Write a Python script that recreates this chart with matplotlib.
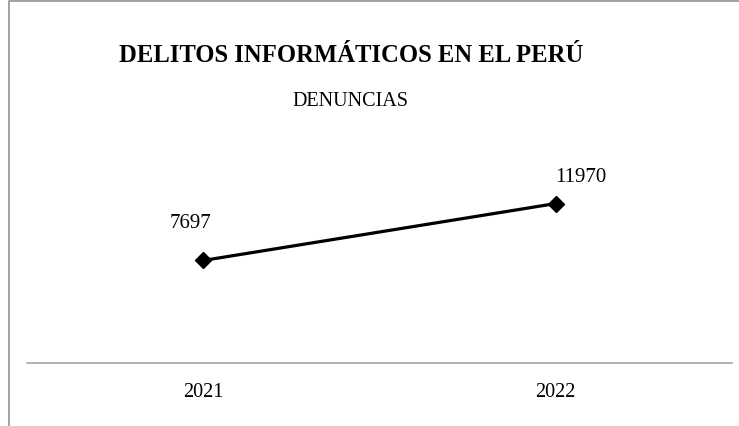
import matplotlib.pyplot as plt
from matplotlib.lines import Line2D

years = ['2021', '2022']
denuncias = [7697, 11970]

plt.rcParams['font.family'] = ['Liberation Serif', 'DejaVu Serif']

W, H = 739, 427
fig = plt.figure(figsize=(W / 100, H / 100), dpi=100)
ax = fig.add_axes([27 / W, (H - 364) / H, (732 - 27) / W, (364 - 177.5) / H])

x = list(range(len(years)))
ax.plot(x, denuncias, color='black', linewidth=2.3, marker='D', markersize=8)

offsets = [(-9, 27), (18, 19.5)]
for xi, v, off in zip(x, denuncias, offsets):
    ax.annotate(str(v), (xi, v), xytext=off, textcoords='offset points',
                ha='center', va='center', fontsize=15)

ax.set_xlim(-0.5, 1.5)
ax.set_ylim(0, 14000)
ax.set_xticks(x)
ax.set_xticklabels(years, fontsize=14.5)
ax.tick_params(axis='x', length=0, pad=14)
ax.set_yticks([])
for s in ['top', 'right', 'left']:
    ax.spines[s].set_visible(False)
ax.spines['bottom'].set_color('#a6a6a6')
ax.spines['bottom'].set_linewidth(1.2)

# chart frame (cut at right and bottom)
fig.add_artist(Line2D([9 / W, 9 / W, 1], [0, 1 - 1.5 / H, 1 - 1.5 / H],
                      transform=fig.transFigure, color='#9a9a9a', linewidth=1.3))

fig.text(351 / W, 1 - 55 / H, 'DELITOS INFORMÁTICOS EN EL PERÚ',
         ha='center', va='center', fontsize=17.7, fontweight='bold')
fig.text(350 / W, 1 - 102 / H, 'DENUNCIAS', ha='center', va='center', fontsize=14.5)

fig.savefig('out.png', dpi=100)
